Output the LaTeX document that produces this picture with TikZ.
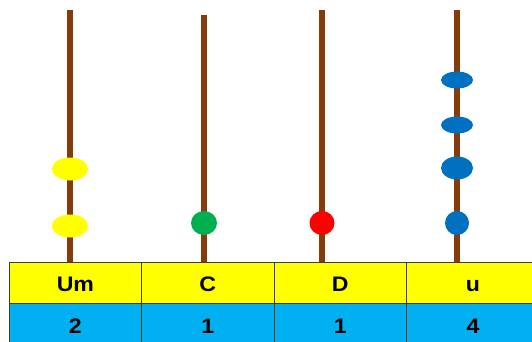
\documentclass[tikz,border=0pt]{standalone}
\usepackage{fontspec}
\setmainfont{Liberation Sans}
\newfontfamily\cellfont[FakeStretch=1.1]{Liberation Sans}
\usetikzlibrary{shapes.geometric}
\definecolor{rodbrown}{HTML}{843C0C}
\definecolor{cellyellow}{HTML}{FFFF00}
\definecolor{cellblue}{HTML}{00B0F0}
\definecolor{beadblue}{HTML}{0070C0}
\definecolor{beadgreen}{HTML}{00B050}
\definecolor{beadred}{HTML}{FF0000}
\definecolor{beadyellow}{HTML}{FFFF00}
\definecolor{gridline}{HTML}{3F3F20}
\begin{document}
\begin{tikzpicture}[x=1pt,y=-1pt,
  rod/.style={draw=rodbrown,line width=6pt},
  bead/.style={ellipse,inner sep=0pt,draw=none},
  headcell/.style={fill=cellyellow,draw=gridline,line width=0.8pt},
  valcell/.style={fill=cellblue,draw=gridline,line width=0.8pt},
  celltext/.style={font=\cellfont\bfseries\fontsize{21}{24}\selectfont,text=black,anchor=base,inner sep=0pt}]
\useasboundingbox (0,0) rectangle (532,341);
\fill[white] (0,0) rectangle (532,341);
% rods
\coordinate (r1t) at (70,10);   \coordinate (r1b) at (70,262);
\coordinate (r2t) at (204,14.7);\coordinate (r2b) at (204,264);
\coordinate (r3t) at (322,10);  \coordinate (r3b) at (322,262);
\coordinate (r4t) at (457,10);  \coordinate (r4b) at (457,262);
\draw[rod] (r1t) -- (r1b);
\draw[rod] (r2t) -- (r2b);
\draw[rod] (r3t) -- (r3b);
\draw[rod] (r4t) -- (r4b);
% beads
\node[bead,fill=beadyellow,minimum width=36pt,minimum height=23pt] (y1) at (70,169) {};
\node[bead,fill=beadyellow,minimum width=36pt,minimum height=23pt] (y2) at (70,226) {};
\node[bead,fill=beadgreen,minimum width=26pt,minimum height=24pt] (g1) at (204,223) {};
\node[bead,fill=beadred,minimum width=25pt,minimum height=24pt] (rd1) at (322,223) {};
\node[bead,fill=beadblue,minimum width=32pt,minimum height=17pt] (b1) at (457,80) {};
\node[bead,fill=beadblue,minimum width=32pt,minimum height=17pt] (b2) at (457,125) {};
\node[bead,fill=beadblue,minimum width=32pt,minimum height=23pt] (b3) at (457,168) {};
\node[bead,fill=beadblue,minimum width=24pt,minimum height=24pt] (b4) at (457,223) {};
% table
\draw[headcell] (9,262) rectangle (141.7,303);
\draw[headcell] (141.7,262) rectangle (274,303);
\draw[headcell] (274,262) rectangle (406.7,303);
\draw[headcell] (406.7,262) rectangle (540,303);
\draw[valcell] (9,303) rectangle (141.7,350);
\draw[valcell] (141.7,303) rectangle (274,350);
\draw[valcell] (274,303) rectangle (406.7,350);
\draw[valcell] (406.7,303) rectangle (540,350);
\node[celltext] (h1) at (75.4,291.5) {Um};
\node[celltext] (h2) at (207.8,291.5) {C};
\node[celltext] (h3) at (340.3,291.5) {D};
\node[celltext] (h4) at (473,291.5) {u};
\node[celltext] (v1) at (75.4,333) {2};
\node[celltext] (v2) at (207.8,333) {1};
\node[celltext] (v3) at (340.3,333) {1};
\node[celltext] (v4) at (473,333) {4};
\end{tikzpicture}
\end{document}
